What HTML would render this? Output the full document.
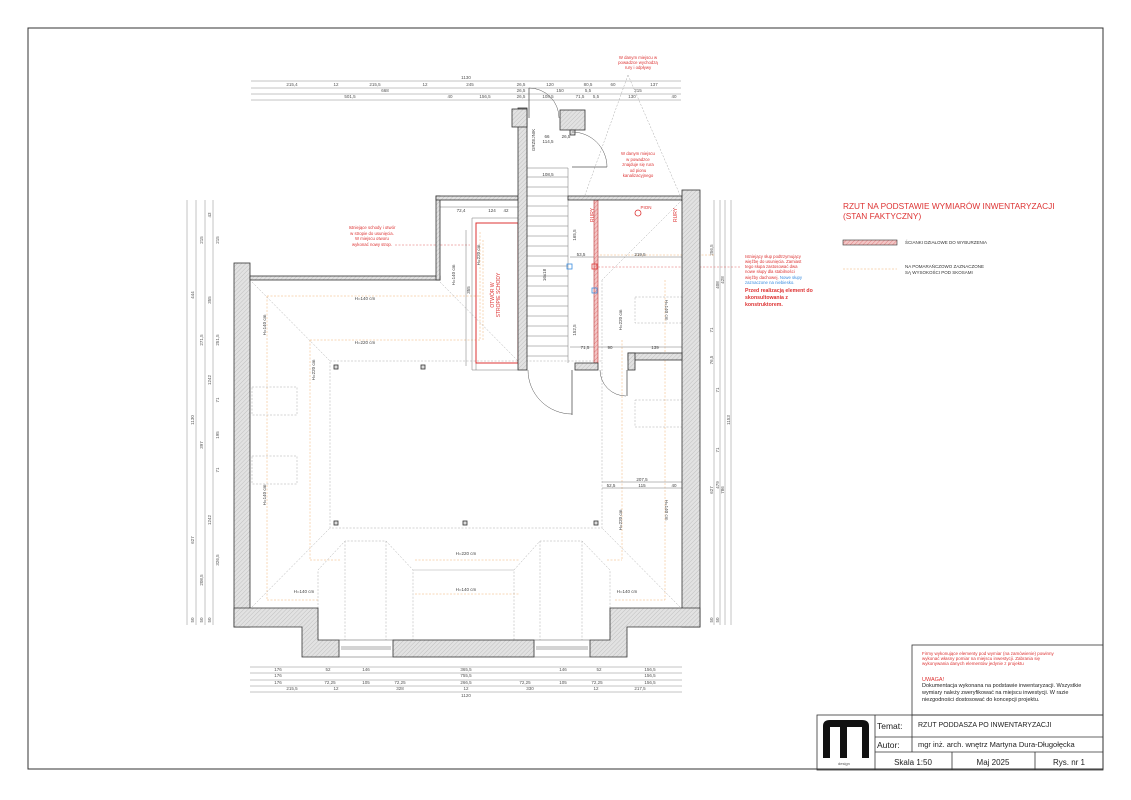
<!DOCTYPE html>
<html><head><meta charset="utf-8"><style>
html,body{margin:0;padding:0;background:#fff}
svg{display:block}
text{font-family:"Liberation Sans",sans-serif}
</style></head><body>
<svg width="1131" height="800" viewBox="0 0 1131 800" xmlns="http://www.w3.org/2000/svg">
<defs>
<pattern id="h" width="3" height="3" patternUnits="userSpaceOnUse" patternTransform="rotate(45)">
<rect width="3" height="3" fill="#e2e2e2"/><line x1="0" y1="0" x2="0" y2="3" stroke="#b8b8b8" stroke-width="0.8"/>
</pattern>
<pattern id="rh" width="3" height="3" patternUnits="userSpaceOnUse" patternTransform="rotate(45)">
<rect width="3" height="3" fill="#f3c6c6"/><line x1="0" y1="0" x2="0" y2="3" stroke="#e07070" stroke-width="0.8"/>
</pattern>
</defs>
<rect x="28" y="28" width="1075" height="741" fill="none" stroke="#333" stroke-width="1"/>

<!-- dimension lines top -->
<g stroke="#888" stroke-width="0.5">
<line x1="251" y1="81" x2="681" y2="81"/><line x1="251" y1="88" x2="681" y2="88"/>
<line x1="251" y1="94" x2="681" y2="94"/><line x1="251" y1="100" x2="681" y2="100"/>
<line x1="250" y1="667" x2="682" y2="667"/><line x1="250" y1="673" x2="682" y2="673"/>
<line x1="250" y1="680" x2="682" y2="680"/><line x1="250" y1="686" x2="682" y2="686"/>
<line x1="250" y1="692" x2="682" y2="692"/>
<line x1="187" y1="200" x2="187" y2="625"/><line x1="196" y1="200" x2="196" y2="625"/>
<line x1="205" y1="200" x2="205" y2="625"/><line x1="213" y1="200" x2="213" y2="625"/>
<line x1="714" y1="200" x2="714" y2="625"/><line x1="720" y1="200" x2="720" y2="625"/>
<line x1="725" y1="200" x2="725" y2="625"/><line x1="731" y1="200" x2="731" y2="625"/>
</g>
<g font-size="4.5" fill="#555" text-anchor="middle">
<text x="466" y="79">1130</text>
<text x="292" y="86">215,4</text><text x="336" y="86">12</text><text x="375" y="86">215,5</text><text x="425" y="86">12</text><text x="470" y="86">245</text><text x="521" y="86">26,5</text><text x="550" y="86">120</text><text x="588" y="86">80,5</text><text x="613" y="86">60</text><text x="654" y="86">137</text>
<text x="385" y="92">668</text><text x="521" y="92">26,5</text><text x="560" y="92">150</text><text x="588" y="92">5,5</text><text x="638" y="92">215</text>
<text x="350" y="98">501,5</text><text x="450" y="98">40</text><text x="485" y="98">156,5</text><text x="521" y="98">26,5</text><text x="548" y="98">108,5</text><text x="580" y="98">71,5</text><text x="596" y="98">5,5</text><text x="632" y="98">130</text><text x="674" y="98">40</text>
<text x="278" y="671">176</text><text x="328" y="671">52</text><text x="366" y="671">146</text><text x="466" y="671">365,5</text><text x="563" y="671">146</text><text x="599" y="671">52</text><text x="650" y="671">156,5</text>
<text x="278" y="677">176</text><text x="466" y="677">755,5</text><text x="650" y="677">156,5</text>
<text x="278" y="684">176</text><text x="330" y="684">72,25</text><text x="366" y="684">105</text><text x="400" y="684">72,25</text><text x="466" y="684">266,5</text><text x="525" y="684">72,25</text><text x="563" y="684">105</text><text x="597" y="684">72,25</text><text x="650" y="684">156,5</text>
<text x="292" y="690">215,5</text><text x="336" y="690">12</text><text x="400" y="690">328</text><text x="466" y="690">12</text><text x="530" y="690">330</text><text x="596" y="690">12</text><text x="640" y="690">217,5</text>
<text x="466" y="697">1120</text>
</g>
<g font-size="4.5" fill="#555" text-anchor="middle">
<text transform="translate(194,295) rotate(-90)">444</text><text transform="translate(194,420) rotate(-90)">1130</text><text transform="translate(194,540) rotate(-90)">627</text><text transform="translate(194,620) rotate(-90)">50</text>
<text transform="translate(203,240) rotate(-90)">215</text><text transform="translate(203,340) rotate(-90)">271,5</text><text transform="translate(203,445) rotate(-90)">397</text><text transform="translate(203,580) rotate(-90)">208,5</text><text transform="translate(203,620) rotate(-90)">50</text>
<text transform="translate(211,215) rotate(-90)">43</text><text transform="translate(211,300) rotate(-90)">355</text><text transform="translate(211,380) rotate(-90)">1242</text><text transform="translate(211,520) rotate(-90)">1242</text><text transform="translate(211,620) rotate(-90)">50</text>
<text transform="translate(219,240) rotate(-90)">215</text><text transform="translate(219,340) rotate(-90)">251,5</text><text transform="translate(219,400) rotate(-90)">71</text><text transform="translate(219,435) rotate(-90)">195</text><text transform="translate(219,470) rotate(-90)">71</text><text transform="translate(219,560) rotate(-90)">326,5</text>
<text transform="translate(713,250) rotate(-90)">256,5</text><text transform="translate(713,330) rotate(-90)">71</text><text transform="translate(713,360) rotate(-90)">76,5</text><text transform="translate(713,490) rotate(-90)">627</text><text transform="translate(713,620) rotate(-90)">50</text>
<text transform="translate(719,285) rotate(-90)">408</text><text transform="translate(719,390) rotate(-90)">71</text><text transform="translate(719,450) rotate(-90)">71</text><text transform="translate(719,485) rotate(-90)">479</text><text transform="translate(719,620) rotate(-90)">50</text>
<text transform="translate(724,280) rotate(-90)">428</text><text transform="translate(724,490) rotate(-90)">786</text>
<text transform="translate(730,420) rotate(-90)">1153</text>
</g>

<!-- orange dashed height lines -->
<g stroke="#f0b070" stroke-width="0.5" stroke-dasharray="2,1.5" fill="none">
<line x1="267" y1="296" x2="480" y2="296"/><line x1="310" y1="340" x2="480" y2="340"/>
<line x1="267" y1="296" x2="267" y2="600"/><line x1="310" y1="340" x2="310" y2="560"/>
<line x1="310" y1="560" x2="340" y2="560"/><line x1="415" y1="560" x2="520" y2="560"/><line x1="607" y1="560" x2="622" y2="560"/>
<line x1="267" y1="600" x2="318" y2="600"/><line x1="615" y1="600" x2="665" y2="600"/>
<line x1="415" y1="594" x2="520" y2="594"/>
<line x1="622" y1="340" x2="622" y2="560"/><line x1="665" y1="280" x2="665" y2="600"/>
<line x1="483" y1="240" x2="483" y2="340"/><line x1="480" y1="232" x2="480" y2="340"/>
<line x1="600" y1="255" x2="715" y2="255"/>
</g>
<g stroke="#e06060" stroke-width="0.5" stroke-dasharray="2,1.5"><line x1="598" y1="267" x2="740" y2="267"/><line x1="395" y1="245" x2="470" y2="245"/></g>
<!-- gray dashed hip lines -->
<g stroke="#aaa" stroke-width="0.5" stroke-dasharray="2,1.5" fill="none">
<rect x="330" y="361" width="272" height="167"/>
<line x1="252" y1="282" x2="330" y2="361"/><line x1="440" y1="282" x2="518" y2="361"/>
<line x1="252" y1="607" x2="330" y2="528"/><line x1="680" y1="607" x2="602" y2="528"/>
<line x1="682" y1="200" x2="602" y2="280"/>
<line x1="602" y1="280" x2="602" y2="361"/>
<polyline points="318,640 318,570 345,541 386,541 413,570 413,640"/>
<polyline points="345,541 345,640"/><polyline points="386,541 386,640"/>
<polyline points="514,640 514,570 540,541 582,541 610,570 610,640"/>
<polyline points="540,541 540,640"/><polyline points="582,541 582,640"/>
<rect x="252" y="387" width="45" height="28"/><rect x="252" y="456" width="45" height="28"/>
<rect x="635" y="297" width="47" height="26"/><rect x="635" y="400" width="47" height="27"/>
<line x1="628" y1="75" x2="585" y2="195"/><line x1="628" y1="75" x2="680" y2="195"/>
</g>
<line x1="413" y1="570" x2="514" y2="570" stroke="#aaa" stroke-width="0.5"/>

<!-- stairs -->
<g stroke="#777" stroke-width="0.5">
<line x1="527" y1="168" x2="568" y2="168"/><line x1="527" y1="177" x2="568" y2="177"/><line x1="527" y1="187" x2="568" y2="187"/><line x1="527" y1="196" x2="568" y2="196"/>
<line x1="527" y1="206" x2="568" y2="206"/><line x1="527" y1="216" x2="568" y2="216"/><line x1="527" y1="226" x2="568" y2="226"/><line x1="527" y1="236" x2="568" y2="236"/>
<line x1="527" y1="246" x2="568" y2="246"/><line x1="527" y1="256" x2="568" y2="256"/><line x1="527" y1="266" x2="568" y2="266"/><line x1="527" y1="276" x2="568" y2="276"/>
<line x1="527" y1="286" x2="568" y2="286"/><line x1="527" y1="296" x2="568" y2="296"/><line x1="527" y1="306" x2="568" y2="306"/><line x1="527" y1="316" x2="568" y2="316"/>
<line x1="527" y1="326" x2="568" y2="326"/><line x1="527" y1="336" x2="568" y2="336"/><line x1="527" y1="346" x2="568" y2="346"/><line x1="527" y1="356" x2="568" y2="356"/>
<line x1="568" y1="168" x2="568" y2="363"/>
<line x1="472" y1="218" x2="472" y2="370"/><line x1="476" y1="223" x2="476" y2="370"/><line x1="472" y1="218" x2="518" y2="218"/><line x1="472" y1="370" x2="518" y2="370"/>
<line x1="440" y1="207" x2="518" y2="207"/><line x1="466" y1="230" x2="466" y2="366"/>
<line x1="570" y1="257" x2="598" y2="257"/><line x1="598" y1="257" x2="682" y2="257"/>
<line x1="570" y1="347" x2="682" y2="347"/>
<line x1="602" y1="482" x2="682" y2="482"/><line x1="602" y1="488" x2="682" y2="488"/>
</g>
<!-- red opening -->
<rect x="476" y="223" width="42" height="140" fill="none" stroke="#d33" stroke-width="1"/>
<rect x="594" y="200" width="4" height="163" fill="url(#rh)" stroke="#b33" stroke-width="0.6"/>
<rect x="592" y="264" width="5" height="5" fill="none" stroke="#d33" stroke-width="0.8"/>
<rect x="567" y="264" width="5" height="5" fill="none" stroke="#3a8de0" stroke-width="0.8"/>
<rect x="592" y="288" width="5" height="5" fill="none" stroke="#3a8de0" stroke-width="0.8"/>
<circle cx="638" cy="213" r="3" fill="none" stroke="#d33" stroke-width="0.8"/>

<!-- walls -->
<g fill="url(#h)" stroke="#333" stroke-width="0.8">
<rect x="234" y="263" width="16" height="364"/>
<rect x="250" y="276" width="190" height="4"/>
<rect x="436" y="196" width="4" height="84"/>
<rect x="436" y="196" width="82" height="4"/>
<rect x="518" y="108" width="9" height="262"/>
<rect x="512" y="109" width="15" height="18"/>
<rect x="560" y="110" width="25" height="20"/>
<rect x="570" y="130" width="5" height="5"/>
<rect x="568" y="196" width="114" height="4"/>
<rect x="682" y="190" width="18" height="437"/>
<rect x="628" y="353" width="54" height="7"/>
<rect x="628" y="353" width="7" height="17"/>
<rect x="575" y="363" width="23" height="7"/>
<polygon points="250,608 318,608 318,640 339,640 339,657 302,657 302,627 234,627 234,608"/>
<rect x="393" y="640" width="141" height="17"/>
<polygon points="590,640 610,640 610,608 682,608 700,608 700,627 627,627 627,657 590,657"/>
</g>
<g stroke="#555" stroke-width="0.5" fill="none">
<rect x="339" y="640" width="54" height="17"/><line x1="341" y1="647" x2="391" y2="647"/><line x1="341" y1="649" x2="391" y2="649"/>
<rect x="534" y="640" width="56" height="17"/><line x1="536" y1="647" x2="588" y2="647"/><line x1="536" y1="649" x2="588" y2="649"/>
<!-- doors -->
<line x1="529" y1="88" x2="529" y2="118" stroke-width="0.8"/><path d="M529,88 A30,30 0 0 1 559,118"/>
<line x1="572" y1="167" x2="607" y2="167" stroke-width="0.8"/><path d="M607,167 A35,35 0 0 0 572,132"/>
<line x1="572" y1="370" x2="572" y2="415" stroke-width="0.8"/><path d="M528,370 A44,44 0 0 0 572,414"/>
<line x1="627" y1="370" x2="627" y2="396" stroke-width="0.8"/><path d="M600,370 A26,26 0 0 0 626,396"/>
</g>
<!-- columns -->
<g fill="#ddd" stroke="#333" stroke-width="0.8">
<rect x="334" y="365" width="4" height="4"/><rect x="421" y="365" width="4" height="4"/>
<rect x="334" y="521" width="4" height="4"/><rect x="463" y="521" width="4" height="4"/><rect x="594" y="521" width="4" height="4"/>
</g>

<!-- room labels -->
<g font-size="4.5" fill="#444" text-anchor="middle">
<text x="365" y="300">H=140 cm</text><text x="365" y="344">H=220 cm</text>
<text x="466" y="555">H=220 cm</text><text x="466" y="591">H=140 cm</text>
<text x="304" y="593">H=140 cm</text><text x="627" y="593">H=140 cm</text>
<text transform="translate(266,325) rotate(-90)">H=140 cm</text>
<text transform="translate(266,495) rotate(-90)">H=140 cm</text>
<text transform="translate(315,370) rotate(-90)">H=220 cm</text>
<text transform="translate(622,320) rotate(-90)">H=220 cm</text>
<text transform="translate(622,520) rotate(-90)">H=220 cm</text>
<text transform="translate(665,310) rotate(90)">H=140 cm</text>
<text transform="translate(665,510) rotate(90)">H=140 cm</text>
<text transform="translate(480,255) rotate(-90)">H=220 cm</text>
<text transform="translate(455,275) rotate(-90)">H=140 cm</text>
<text transform="translate(535,140) rotate(-90)">GRZEJNIK</text>
<text x="461" y="212">72,4</text><text x="492" y="212">124</text><text x="506" y="212">42</text>
<text x="547" y="138">66</text><text x="566" y="138">26,5</text><text x="548" y="143">114,5</text>
<text x="548" y="176">108,5</text>
<text x="581" y="256">53,5</text><text x="640" y="256">219,5</text><text x="610" y="349">90</text><text x="585" y="349">71,5</text><text x="655" y="349">139</text>
<text x="642" y="481">207,5</text><text x="611" y="487">52,5</text><text x="642" y="487">115</text><text x="674" y="487">40</text>
<text transform="translate(576,235) rotate(-90)">165,5</text><text transform="translate(576,330) rotate(-90)">152,5</text>
<text transform="translate(546,275) rotate(-90)">16x18</text>
<text transform="translate(470,290) rotate(-90)">355</text>
</g>
<g font-size="5" fill="#d33" text-anchor="middle">
<text transform="translate(494,295) rotate(-90)">OTWÓR W</text>
<text transform="translate(500,295) rotate(-90)">STROPIE SCHODY</text>
<text transform="translate(594,215) rotate(-90)">RURY</text>
<text transform="translate(677,215) rotate(-90)">RURY</text>
<text x="646" y="209" font-size="4.5">PION</text>
</g>

<!-- red notes -->
<g font-size="4.3" fill="#d33" text-anchor="middle">
<text x="638" y="59">W danym  miejscu w</text><text x="638" y="64">powadzce wychodzą</text><text x="638" y="69">rury i odpływy</text>
<text x="638" y="155">W danym  miejscu</text><text x="638" y="161">w powadzce</text><text x="638" y="166">znajduje się rura</text><text x="638" y="172">od pionu</text><text x="638" y="177">kanalizacyjnego</text>
<text x="372" y="229">Istniejące schody i otwór</text><text x="372" y="235">w stropie do usunięcia.</text><text x="372" y="240">W miejscu otworu</text><text x="372" y="246">wykonać nowy strop.</text>
</g>
<g font-size="4.3" fill="#d33">
<text x="745" y="258">Istniejący słup podtrzymujący</text><text x="745" y="263">więźbę do usunięcia. Zamiast</text><text x="745" y="268">tego słupa zastosować dwa</text><text x="745" y="273">nowe słupy dla stabilności</text><text x="745" y="279">więźby dachowej. <tspan fill="#3a8de0">Nowe słupy</tspan></text><text x="745" y="284" fill="#3a8de0">zaznaczone na niebiesko.</text>
<text x="745" y="292" font-weight="bold" font-size="5.2">Przed realizacją element do</text><text x="745" y="299" font-weight="bold" font-size="5.2">skonsultowania z</text><text x="745" y="306" font-weight="bold" font-size="5.2">konstruktorem.</text>
</g>

<!-- legend -->
<text x="843" y="209" font-size="8.3" fill="#d33">RZUT NA PODSTAWIE WYMIARÓW INWENTARYZACJI</text>
<text x="843" y="219" font-size="8.3" fill="#d33">(STAN FAKTYCZNY)</text>
<rect x="843" y="240" width="54" height="5" fill="url(#rh)" stroke="#333" stroke-width="0.6"/>
<text x="905" y="244" font-size="4.5" fill="#333">ŚCIANKI DZIAŁOWE DO WYBURZENIA</text>
<line x1="843" y1="269" x2="897" y2="269" stroke="#f0b070" stroke-width="0.6" stroke-dasharray="2,1.5"/>
<text x="905" y="268" font-size="4.5" fill="#333">NA POMARAŃCZOWO ZAZNACZONE</text>
<text x="905" y="274" font-size="4.5" fill="#333">SĄ WYSOKOŚCI POD SKOSAMI</text>

<!-- title block -->
<g stroke="#333" stroke-width="0.8" fill="none">
<rect x="912" y="645" width="191" height="70"/>
<rect x="817" y="715" width="286" height="55"/>
<line x1="875" y1="715" x2="875" y2="770"/><line x1="875" y1="737" x2="1103" y2="737"/><line x1="875" y1="752" x2="1103" y2="752"/>
<line x1="912" y1="715" x2="912" y2="752"/><line x1="952" y1="752" x2="952" y2="770"/><line x1="1035" y1="752" x2="1035" y2="770"/>
</g>
<g font-size="4.5" fill="#d33">
<text x="922" y="655">Firmy wykonujące elementy pod wymiar (na zamówienie) powinny</text>
<text x="922" y="660">wykonać własny pomiar na miejscu inwestycji. Zabrania się</text>
<text x="922" y="665">wykonywania danych elementów jedynie z projektu</text>
<text x="922" y="681" font-size="5.5">UWAGA!</text>
</g>
<g font-size="5.5" fill="#222">
<text x="922" y="687">Dokumentacja wykonana na podstawie inwentaryzacji. Wszystkie</text>
<text x="922" y="694">wymiary należy zweryfikować na miejscu inwestycji. W razie</text>
<text x="922" y="701">niezgodności dostosować do koncepcji projektu.</text>
</g>
<text x="877" y="729" font-size="8.5" fill="#222" font-family="Liberation Mono">Temat:</text>
<text x="877" y="748" font-size="8.5" fill="#222" font-family="Liberation Mono">Autor:</text>
<text x="918" y="727" font-size="7" fill="#222">RZUT PODDASZA PO INWENTARYZACJI</text>
<text x="918" y="747" font-size="7.5" fill="#222">mgr inż. arch. wnętrz Martyna Dura-Długołęcka</text>
<text x="913" y="765" font-size="8" fill="#222" text-anchor="middle">Skala 1:50</text>
<text x="993" y="765" font-size="8" fill="#222" text-anchor="middle">Maj 2025</text>
<text x="1069" y="765" font-size="8" fill="#222" text-anchor="middle">Rys. nr 1</text>
<!-- logo -->
<path d="M823,758 L823,726 Q823,720 830,720 L862,720 Q869,720 869,726 L869,758 L862,758 L862,727 L847,727 L847,758 L840,758 L840,727 L830,727 L830,758 Z" fill="#111"/>
<text x="838" y="765" font-size="4" fill="#555">design</text>
</svg>
</body></html>
